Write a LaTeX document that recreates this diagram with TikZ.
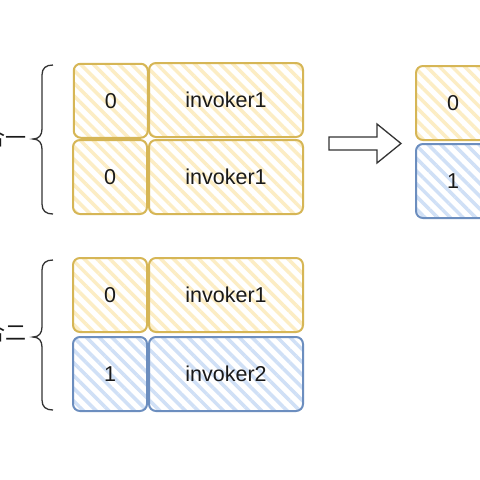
\documentclass[tikz,border=0pt]{standalone}
\usepackage{fontspec}
\setmainfont{Liberation Sans}
\newfontfamily\cjk{Noto Sans CJK SC}
\usetikzlibrary{patterns.meta}
\definecolor{ystroke}{HTML}{D6B656}
\definecolor{yfill}{HTML}{FCEDC4}
\definecolor{bstroke}{HTML}{6C8EBF}
\definecolor{bfill}{HTML}{D0E0F6}
\definecolor{ink}{HTML}{1A1A1A}
\definecolor{brace}{HTML}{333333}
\begin{document}
\begin{tikzpicture}[x=1pt,y=-1pt,
  cell/.style={draw, line width=2pt, rounded corners=7pt, inner sep=0pt,
    anchor=north west, font=\fontsize{21.5}{25}\selectfont, text=ink,
    minimum height=74pt},
  ycell/.style={cell, draw=ystroke, preaction={fill=white},
    pattern={Lines[angle=-45,distance=9pt,line width=3.5pt]}, pattern color=yfill},
  bcell/.style={cell, draw=bstroke, preaction={fill=white},
    pattern={Lines[angle=-45,distance=9pt,line width=3.5pt]}, pattern color=bfill},
  idcell/.style={minimum width=74pt},
  namecell/.style={minimum width=154pt},
  bracepath/.style={draw=brace, line width=1.3pt},
  label/.style={anchor=base east, font=\cjk\fontsize{21}{25}\selectfont, text=ink},
  blockarrow/.style={draw=brace, line width=1.3pt, fill=white}
]
\fill[white] (0,0) rectangle (480,480);
\useasboundingbox (0,0) rectangle (480,480);

% left labels (cut off by the picture edge, as in the reference)
\node[label] (t1) at (30,145) {组合一};
\node[label] (t2) at (30,340) {组合二};

% top group
\node[ycell, idcell]   (a1) at (72,62)  {0};
\node[ycell, namecell] (a2) at (148,62) {invoker1};
\node[ycell, idcell]   (b1) at (72,139)  {0};
\node[ycell, namecell] (b2) at (148,139) {invoker1};

% bottom group
\node[ycell, idcell]   (c1) at (72,257)  {0};
\node[ycell, namecell] (c2) at (148,257) {invoker1};
\node[bcell, idcell]   (d1) at (72,336)  {1};
\node[bcell, namecell] (d2) at (148,336) {invoker2};

% right group
\node[ycell, idcell] (e1) at (415,65)  {0};
\node[bcell, idcell] (f1) at (415,143) {1};

% braces
\path[bracepath] (53,65) .. controls (46,65) and (42,68) .. (42,75) -- (42,129)
  .. controls (42,135) and (39,139) .. (33,139)
  .. controls (39,139) and (42,143) .. (42,149) -- (42,204)
  .. controls (42,211) and (46,214) .. (53,214);
\path[bracepath] (53,260) .. controls (46,260) and (42,263) .. (42,270) -- (42,327)
  .. controls (42,333) and (39,337) .. (33,337)
  .. controls (39,337) and (42,341) .. (42,347) -- (42,400)
  .. controls (42,407) and (46,410) .. (53,410);

% block arrow
\path[blockarrow] (329,137) -- (377,137) -- (377,124) -- (401,143.5)
  -- (377,163) -- (377,150) -- (329,150) -- cycle;
\end{tikzpicture}
\end{document}
